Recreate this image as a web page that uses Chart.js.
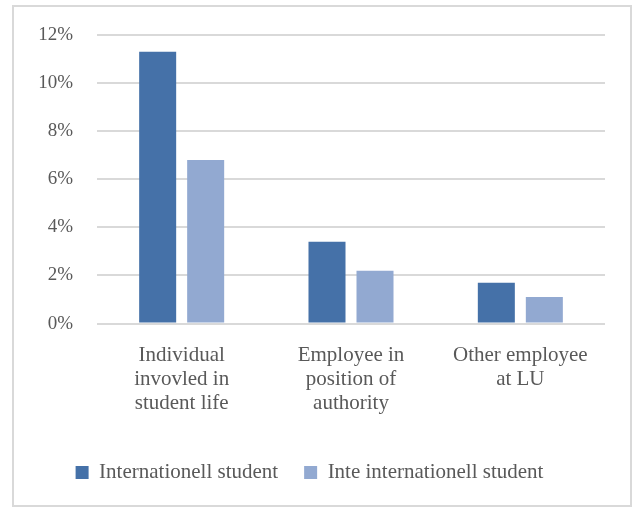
<!DOCTYPE html>
<html>
<head>
<meta charset="utf-8">
<script src="https://cdn.jsdelivr.net/npm/chart.js@4.4.0/dist/chart.umd.min.js"></script>
<style>
  body { margin: 0; background: #fff; }
  #frame {
    position: absolute; left: 12px; top: 5px;
    width: 620px; height: 502px;
    border: 2px solid #d9d9d9; box-sizing: border-box;
  }
  canvas { display: block; }
</style>
</head>
<body>
<div id="frame"><canvas id="myChart" width="616" height="498"></canvas></div>
<script>
'use strict';

// data
var categories = [
  ['Individual', 'invovled in', 'student life'],
  ['Employee in', 'position of', 'authority'],
  ['Other employee', 'at LU']
];
var seriesNames = ['Internationell student', 'Inte internationell student'];
var internationalValues = [11.3, 3.4, 1.7];
var domesticValues = [6.8, 2.2, 1.1];
var seriesColors = ['#4571a8', '#92a9d1'];

var textColor = '#595959';
var fontFamily = '"Liberation Serif", "Times New Roman", serif';

var ctx = document.getElementById('myChart').getContext('2d');
// eslint-disable-next-line no-unused-vars
var chart = new Chart(ctx, {
  type: 'bar',
  data: {
    labels: categories,
    datasets: [{
      label: seriesNames[0],
      data: internationalValues,
      backgroundColor: seriesColors[0]
    }, {
      label: seriesNames[1],
      data: domesticValues,
      backgroundColor: seriesColors[1]
    }]
  },
  options: {
    responsive: false,
    animation: false,
    categoryPercentage: 0.567,
    barPercentage: 0.771,
    layout: { padding: { top: 28, right: 25, bottom: 12, left: 0 } },
    plugins: {
      tooltip: { enabled: false },
      legend: {
        position: 'bottom',
        labels: {
          color: textColor,
          font: { family: fontFamily, size: 21 },
          boxWidth: 13,
          boxHeight: 13,
          padding: 26
        }
      }
    },
    scales: {
      x: {
        grid: { display: false, drawTicks: false },
        border: { display: false },
        ticks: {
          color: textColor,
          font: { family: fontFamily, size: 21, lineHeight: 1.15 },
          padding: 20,
          maxRotation: 0
        }
      },
      y: {
        min: 0,
        max: 12,
        afterFit: function (scale) {
          // fixed plot edges like the original
          scale.width = 83;
          scale.paddingTop = 0;
          scale.paddingBottom = 0;
        },
        grid: { color: '#d9d9d9', lineWidth: 2, drawTicks: false },
        border: { display: false },
        ticks: {
          stepSize: 2,
          color: textColor,
          font: { family: fontFamily, size: 19 },
          padding: 24,
          callback: function (v) { return v + '%'; }
        }
      }
    }
  }
});
</script>
</body>
</html>
